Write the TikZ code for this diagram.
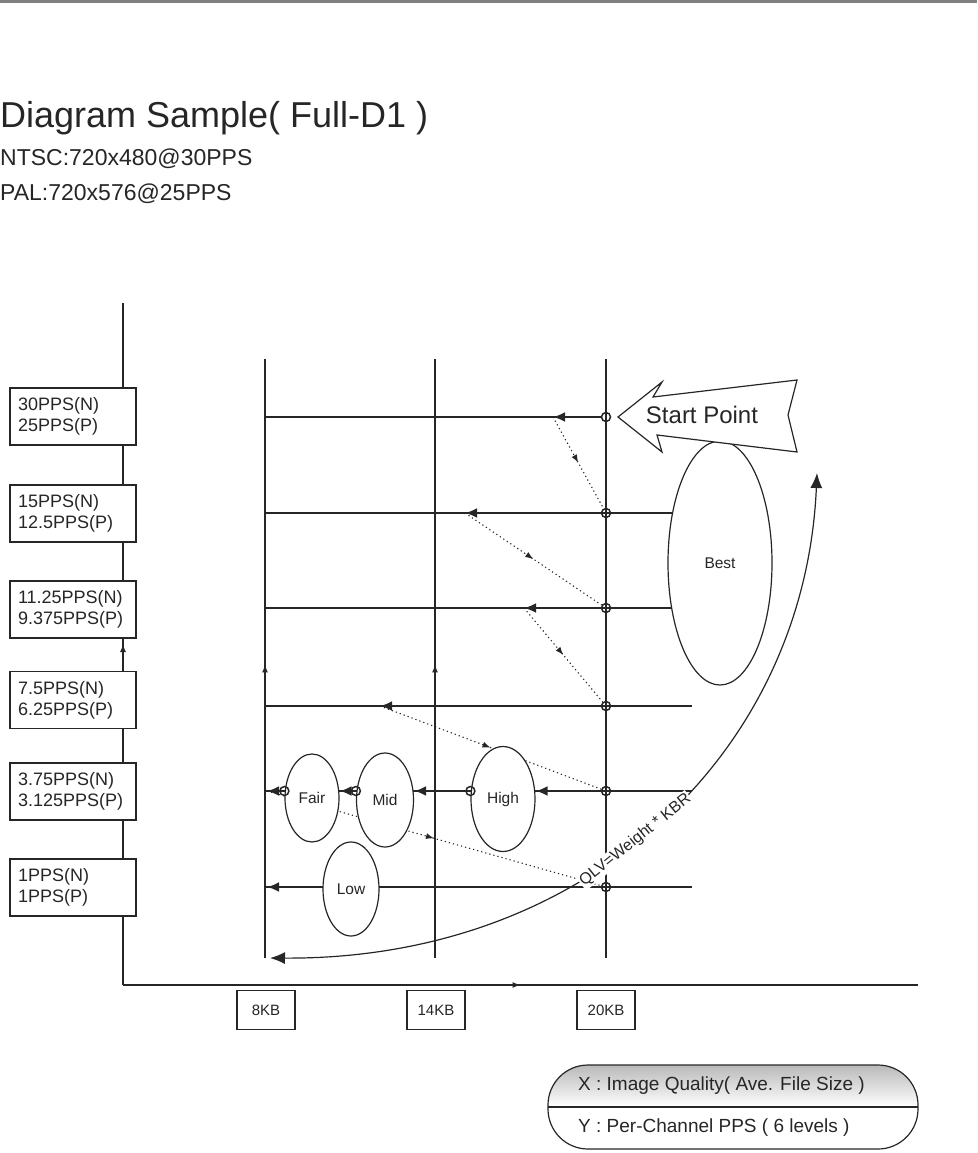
\documentclass[tikz,border=0pt]{standalone}
\usepackage{fontspec}
\setmainfont{Liberation Sans}
\usetikzlibrary{shapes.geometric,arrows.meta,decorations.markings,calc}
\definecolor{inkgray}{RGB}{38, 38, 38}
\definecolor{rulegray}{RGB}{128, 128, 128}

\begin{document}
\begin{tikzpicture}[x=1pt, y=-1pt, color=inkgray,
        lvlbox/.style={draw, fill=white, line width=1.2pt, text width=110pt, inner xsep=8pt, inner ysep=2pt, minimum height=57pt, align=left, font=\fontsize{18}{21}\selectfont},
        kbbox/.style={draw, fill=white, line width=1.2pt, minimum width=58pt, minimum height=39pt, font=\fontsize{15}{18}\selectfont},
        zone/.style={draw, ellipse, fill=white, line width=1.2pt, inner sep=0pt, font=\fontsize{15.5}{18}\selectfont},
        xing/.style={draw, circle, line width=1.5pt, minimum size=9pt, inner sep=0pt},
        guide/.style={line width=1.3pt},
        uptick/.style={postaction={decorate}, decoration={markings, mark=at position #1 with {\arrow{Latex[length=8pt,width=6pt]}}}},
        fwd/.style={>={Latex[length=12pt,width=10pt]}, ->, line width=2.6pt},
        hint/.style={dash pattern=on 1.2pt off 3pt, line width=1.1pt, uptick=0.5},
        swing/.style={>={Latex[length=15pt,width=12pt]}, <->, line width=1.2pt}]
        \useasboundingbox (0,0) rectangle (977,1153);
        \draw[rulegray, line width=3pt] (0,1.5) -- (977,1.5);

        % Heading
        \node[anchor=base west, inner sep=0pt, font=\fontsize{36}{40}\selectfont] (title) at (0,128) {Diagram Sample( Full-D1 )};
        \node[anchor=base west, inner sep=0pt, font=\fontsize{23}{26}\selectfont] (ntsc) at (0,165) {NTSC:720x480@30PPS};
        \node[anchor=base west, inner sep=0pt, font=\fontsize{23}{26}\selectfont] (pal) at (0,200) {PAL:720x576@25PPS};

        % Axes and guide lines
        \coordinate (o) at (123,985);
        \coordinate (ytop) at (123,303);
        \coordinate (xend) at (918,985);
        \coordinate (v8t) at (265,359);
        \coordinate (v8b) at (265,958);
        \coordinate (v14t) at (435,359);
        \coordinate (v14b) at (435,958);
        \coordinate (v20t) at (606,359);
        \coordinate (v20b) at (606,958);
        \draw[guide, uptick=0.5] (o) -- (ytop);
        \draw[guide, uptick=0.5] (o) -- (xend);
        \draw[guide, uptick=0.49] (v8b) -- (v8t);
        \draw[guide, uptick=0.49] (v14b) -- (v14t);
        \draw[guide] (v20b) -- (v20t);

        % Crossings on the 20KB line
        \node[xing] (c1) at (606,417) {};
        \node[xing] (c2) at (606,513) {};
        \node[xing] (c3) at (606,608) {};
        \node[xing] (c4) at (606,706) {};
        \node[xing] (c5) at (606,791) {};
        \node[xing] (c6) at (606,887) {};
        \coordinate (bestc) at (720,563);
        \coordinate (rowend) at (692,700);

        % Level rows
        \draw[guide] (v8t |- c1) -- (c1);
        \draw[guide] (v8t |- c2) -- (bestc |- c2);
        \draw[guide] (v8t |- c3) -- (bestc |- c3);
        \draw[guide] (v8t |- c4) -- (rowend |- c4);
        \draw[guide] (v8t |- c5) -- (rowend |- c5);
        \draw[guide] (v8t |- c6) -- (rowend |- c6);

        % Step-down hints
        \coordinate (e1) at (553,417);
        \coordinate (e2) at (465,513);
        \coordinate (e3) at (524,608);
        \coordinate (e4) at (380,706);
        \coordinate (e5) at (267,791);
        \coordinate (e6) at (267,887);
        \draw[hint] (e1) -- (c2);
        \draw[hint] (e2) -- (c3);
        \draw[hint] (e3) -- (c4);
        \draw[hint] (e4) -- (c5);
        \draw[hint] (e5) -- (c6);
        \draw[fwd] (c6) -- (e6);

        % Quality zones
        \node[zone, minimum width=104pt, minimum height=244pt] (best) at (bestc) {Best};
        \node[zone, minimum width=64pt, minimum height=105pt] (high) at (503,799) {High};
        \node[zone, minimum width=57pt, minimum height=94pt] (mid) at (385,800) {Mid};
        \node[zone, minimum width=54pt, minimum height=88pt] (fair) at (312,798) {Fair};
        \node[zone, minimum width=56pt, minimum height=94pt] (low) at (351,889) {Low};

        % Drop arrows
        \draw[fwd] (c1) -- (e1);
        \draw[fwd] (c2) -- (e2);
        \draw[fwd] (c3) -- (e3);
        \draw[fwd] (c4) -- (e4);
        \node[xing] (hc) at (high.west |- c5) {};
        \node[xing] (mc) at (mid.west |- c5) {};
        \node[xing] (fc) at (fair.west |- c5) {};
        \draw[fwd] (c5) -- (c5 -| high.east);
        \draw[fwd] (hc) -- (hc -| mid.east);
        \draw[fwd] (mc) -- (mc -| fair.east);
        \draw[fwd] (fc) -- (e5);

        % Start Point
        \draw[fill=white, line width=1.2pt] (618,417) -- (662,382) -- (653,397) -- (797,380) -- (788,415) -- (797,452) -- (657,435) -- (662,452) -- cycle;
        \node[font=\fontsize{24}{28}\selectfont] (startlbl) at (702,415) {Start Point};

        % Weight curve
        \coordinate (arcbot) at (270,958);
        \coordinate (arctop) at (817,473);
        \draw[swing] (arcbot) .. controls (590,960) and (805,750) .. node[pos=0.46, sloped, fill=white, inner sep=1pt, font=\fontsize{16}{18}\selectfont] (qlv) {QLV=Weight * KBR} (arctop);

        % Level boxes
        \node[lvlbox] (l30) at (73,416.5) {30PPS(N)\\25PPS(P)};
        \node[lvlbox] (l15) at (73,513.5) {15PPS(N)\\12.5PPS(P)};
        \node[lvlbox] (l11) at (73,609.5) {11.25PPS(N)\\9.375PPS(P)};
        \node[lvlbox] (l7) at (73,700) {7.5PPS(N)\\6.25PPS(P)};
        \node[lvlbox] (l3) at (73,791.5) {3.75PPS(N)\\3.125PPS(P)};
        \node[lvlbox] (l1) at (73,887.5) {1PPS(N)\\1PPS(P)};

        % File size boxes
        \node[kbbox] (kb8) at (266,1010) {8KB};
        \node[kbbox] (kb14) at (436,1010) {14KB};
        \node[kbbox] (kb20) at (606,1010) {20KB};

        % Legend
        \begin{scope}
            \clip[rounded corners=40pt] (548,1065) rectangle (918,1149);
            \shade[top color=gray!55, bottom color=white] (548,1065) rectangle (918,1107);
        \end{scope}
        \draw[line width=1.2pt, rounded corners=40pt] (548,1065) rectangle (918,1149);
        \draw[line width=1.2pt] (548,1107) -- (918,1107);
        \node[anchor=west, inner sep=0pt, font=\fontsize{19}{22}\selectfont] (legx) at (578,1086) {X : Image Quality( Ave. File Size )};
        \node[anchor=west, inner sep=0pt, font=\fontsize{19}{22}\selectfont] (legy) at (578,1128) {Y : Per-Channel PPS ( 6 levels )};
    \end{tikzpicture}
\end{document}
